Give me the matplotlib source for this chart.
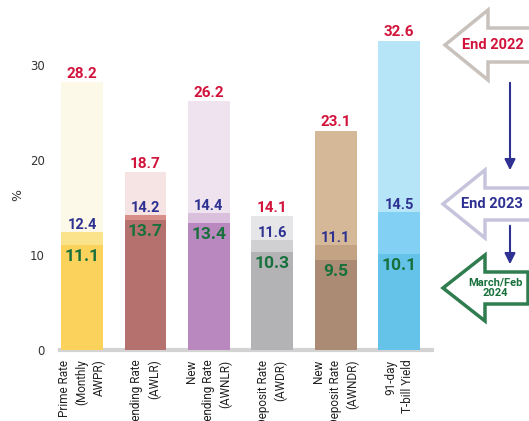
import numpy as np
import matplotlib.pyplot as plt
from matplotlib.patches import Polygon

labels = ['Prime Rate\n(Monthly\nAWPR)', 'Lending Rate\n(AWLR)', 'New\nLending Rate\n(AWNLR)',
          'Deposit Rate\n(AWDR)', 'New\nDeposit Rate\n(AWNDR)', '91-day\nT-bill Yield']
end2022 = [28.2, 18.7, 26.2, 14.1, 23.1, 32.6]
end2023 = [12.4, 14.2, 14.4, 11.6, 11.1, 14.5]
mar2024 = [11.1, 13.7, 13.4, 10.3, 9.5, 10.1]

light = ['#fdf9e8', '#f6e3e3', '#efe3f0', '#e6e6e8', '#d5b898', '#b6e5f8']
mid = ['#fbe38b', '#d98f89', '#dbc0dd', '#d0d0d2', '#c4a385', '#82d0f3']
dark = ['#fad25c', '#b5716e', '#b988bf', '#b3b3b5', '#ab8b73', '#65c3ea']

RED = '#d2143c'
NAVY = '#2e3192'
GREEN = '#18703c'

fig = plt.figure(figsize=(5.29, 4.21), dpi=100)
ax = fig.add_axes([60 / 529, 71 / 421, 372 / 529, 318 / 421])
x = np.arange(len(labels))
w = 0.66
ax.bar(x, end2022, w, color=light, zorder=1)
ax.bar(x, end2023, w, color=mid, zorder=2)
ax.bar(x, mar2024, w, color=dark, zorder=3)

for i in range(len(x)):
    ax.annotate(f'{end2022[i]:.1f}', (x[i], end2022[i]), xytext=(0, 1), textcoords='offset points',
                ha='center', va='bottom', color=RED, fontsize=11, fontweight='bold', family='Roboto', zorder=5)
    ax.annotate(f'{end2023[i]:.1f}', (x[i], end2023[i]), xytext=(0, 0), textcoords='offset points',
                ha='center', va='bottom', color=NAVY, fontsize=10.5, fontweight='bold', family='Roboto', zorder=5)
    ax.annotate(f'{mar2024[i]:.1f}', (x[i], mar2024[i]), xytext=(0, -3), textcoords='offset points',
                ha='center', va='top', color=GREEN, fontsize=12.5, fontweight='bold', family='Roboto', zorder=5)

ax.set_xlim(-0.35, 5.52)
ax.set_ylim(0, 33.5)
ax.set_yticks([0, 10, 20, 30])
ax.tick_params(axis='y', length=0, pad=11, labelsize=8.5, labelcolor='#333333')
ax.tick_params(axis='x', length=0, pad=7)
ax.set_xticks(x)
ax.set_xticklabels(labels, rotation=90, fontsize=8.5, va='top', ha='center', multialignment='right',
                   family='Roboto', color='#222222', linespacing=1.4)
for s in ['top', 'right', 'left']:
    ax.spines[s].set_visible(False)
ax.spines['bottom'].set_color('#d3d3d3')
ax.spines['bottom'].set_linewidth(3)
fig.text(18 / 529, 1 - 195 / 421, '%', rotation=90, fontsize=9, color='#333333', ha='center', va='center')

# right-hand legend arrows, drawn in pixel space
ov = fig.add_axes([0, 0, 1, 1], zorder=10)
ov.set_xlim(0, 529)
ov.set_ylim(421, 0)
ov.axis('off')


def block_arrow(tip_x, cy, head_x, half_head, half_shaft, right, edge, txt, tcolor, fs, tx):
    pts = [(tip_x, cy), (head_x, cy - half_head), (head_x, cy - half_shaft), (right, cy - half_shaft),
           (right, cy + half_shaft), (head_x, cy + half_shaft), (head_x, cy + half_head)]
    ov.add_patch(Polygon(pts, closed=True, facecolor='white', edgecolor=edge, lw=2.5))
    ov.text(tx, cy, txt, ha='center', va='center', color=tcolor,
            fontsize=fs, fontweight='bold', family='Roboto', linespacing=1.1)


block_arrow(445, 45, 488, 35, 17, 540, '#c9c1bb', 'End 2022', RED, 10.5, 493)
block_arrow(443, 204, 485, 34, 16, 540, '#c6c4dc', 'End 2023', NAVY, 10.5, 492)
block_arrow(443, 288, 485, 33, 16, 528, '#2f7d4f', 'March/Feb\n2024', GREEN, 8, 495)

ov.annotate('', xy=(510, 173), xytext=(510, 80),
            arrowprops=dict(arrowstyle='-|>', color=NAVY, lw=1.5, mutation_scale=16))
ov.annotate('', xy=(510, 267), xytext=(510, 223),
            arrowprops=dict(arrowstyle='-|>', color=NAVY, lw=1.5, mutation_scale=16))

fig.savefig('out.png', dpi=100)
